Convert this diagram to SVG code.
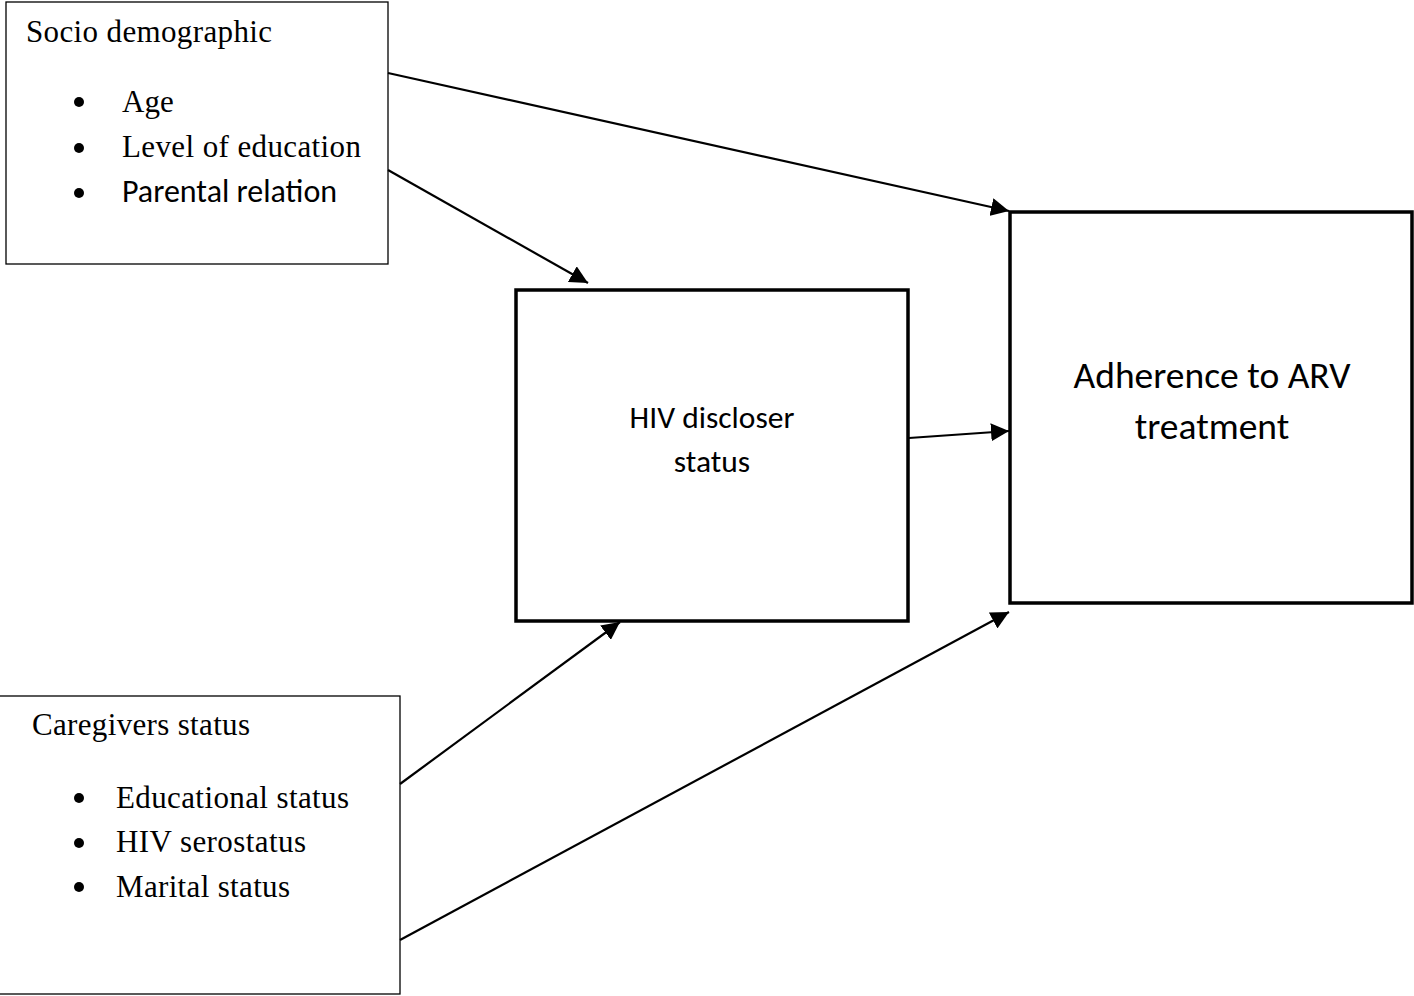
<svg xmlns="http://www.w3.org/2000/svg" width="1414" height="996" viewBox="0 0 1414 996">
<defs>
<style>
.thin{fill:#fff;stroke:#000;stroke-width:1.3}
.thick{fill:#fff;stroke:#000;stroke-width:3.5}
.serif{font-family:"Liberation Serif","Times New Roman",serif;font-size:31px;fill:#000}
.sans{font-family:Carlito,"Open Sans","Liberation Sans",sans-serif;fill:#000}
.con line{stroke:#000;stroke-width:2.2}
</style>
<marker id="ah2" viewBox="0 0 10 10" refX="10" refY="5" markerWidth="18" markerHeight="18" markerUnits="userSpaceOnUse" orient="auto">
<path d="M0,0 L10,5 L0,10 z" fill="#000"/>
</marker>
</defs>
<rect width="1414" height="996" fill="#fff"/>
<g id="socio">
<rect class="thin" x="6" y="2" width="382" height="262"/>
<text class="serif" x="26" y="42" textLength="246">Socio demographic</text>
<circle cx="79" cy="102" r="5"/>
<circle cx="79" cy="148" r="5"/>
<circle cx="79" cy="193" r="5"/>
<text class="serif" x="122" y="112">Age</text>
<text class="serif" x="122" y="157" textLength="239">Level of education</text>
<text class="sans" x="122" y="202" font-size="32">Parental relation</text>
</g>
<g id="caregivers">
<rect class="thin" x="-2" y="696" width="402" height="298"/>
<text class="serif" x="32" y="735" textLength="218">Caregivers status</text>
<circle cx="79" cy="798" r="5"/>
<circle cx="79" cy="843" r="5"/>
<circle cx="79" cy="887" r="5"/>
<text class="serif" x="116" y="808" textLength="233">Educational status</text>
<text class="serif" x="116" y="852" textLength="190">HIV serostatus</text>
<text class="serif" x="116" y="897" textLength="174">Marital status</text>
</g>
<g id="hiv">
<rect class="thick" x="516" y="290" width="392" height="331"/>
<text class="sans" x="712" y="428" font-size="31.5" text-anchor="middle">HIV discloser</text>
<text class="sans" x="712" y="472" font-size="31.5" text-anchor="middle">status</text>
</g>
<g id="adherence">
<rect class="thick" x="1010" y="212" width="402" height="391"/>
<text class="sans" x="1212" y="388" font-size="37.5" text-anchor="middle">Adherence to ARV</text>
<text class="sans" x="1212" y="439" font-size="37.5" text-anchor="middle">treatment</text>
</g>
<g id="connectors" class="con">
<line x1="388" y1="73" x2="1009" y2="211" marker-end="url(#ah2)"/>
<line x1="388" y1="170" x2="588" y2="283" marker-end="url(#ah2)"/>
<line x1="909" y1="438" x2="1009" y2="431" marker-end="url(#ah2)"/>
<line x1="400" y1="784" x2="620" y2="622" marker-end="url(#ah2)"/>
<line x1="400" y1="940" x2="1009" y2="612" marker-end="url(#ah2)"/>
</g>
</svg>
